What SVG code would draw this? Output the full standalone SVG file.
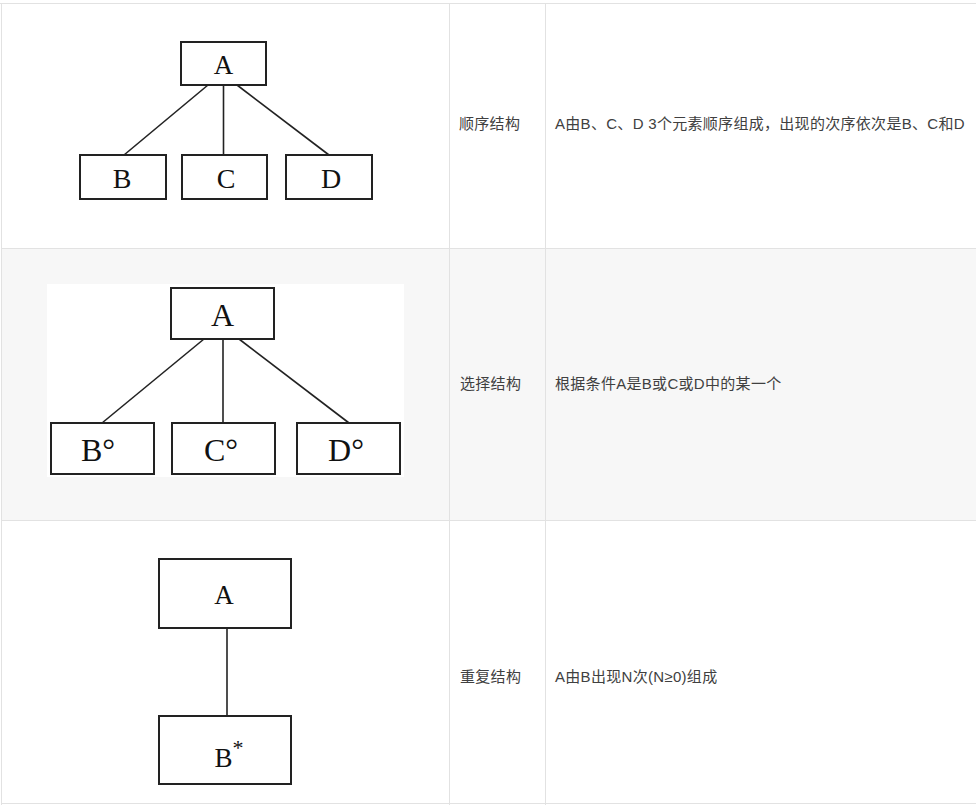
<svg xmlns="http://www.w3.org/2000/svg" width="976" height="805" viewBox="0 0 976 805">
<style>
.grid{stroke:#e2e2e2;stroke-width:1;fill:none}
.box{fill:#fff;stroke:#222;stroke-width:2}
.edge{stroke:#222;stroke-width:1.6;fill:none}
.lbl{font-family:"Liberation Serif","Times New Roman",serif;fill:#111;text-anchor:middle}
.cell{font-family:"Liberation Sans","Noto Sans CJK SC",sans-serif;font-size:15px;fill:#404040;letter-spacing:0.3px}
</style>
<rect x="0" y="0" width="976" height="805" fill="#fff"/>
<g id="table">
<rect x="1" y="248.5" width="975" height="272" fill="#f7f7f7"/>
<line class="grid" x1="0" y1="3.5" x2="976" y2="3.5" stroke="#ececec"/>
<line class="grid" x1="1.5" y1="3" x2="1.5" y2="805"/>
<line class="grid" x1="449.5" y1="3" x2="449.5" y2="805"/>
<line class="grid" x1="545.5" y1="3" x2="545.5" y2="805"/>
<line class="grid" x1="1" y1="248.5" x2="976" y2="248.5"/>
<line class="grid" x1="1" y1="520.5" x2="976" y2="520.5"/>
<line class="grid" x1="1" y1="803.5" x2="976" y2="803.5" stroke="#f0f0f0"/>
<text class="cell" x="459" y="129">顺序结构</text>
<text class="cell" x="555" y="129">A由B、C、D 3个元素顺序组成，出现的次序依次是B、C和D</text>
<text class="cell" x="460" y="389">选择结构</text>
<text class="cell" x="555" y="389">根据条件A是B或C或D中的某一个</text>
<text class="cell" x="460" y="682">重复结构</text>
<text class="cell" x="555" y="682">A由B出现N次(N≥0)组成</text>
</g>
<rect x="47" y="284" width="357" height="193" fill="#fff"/>
<g id="connectors">
<line class="edge" x1="208" y1="85" x2="124" y2="155"/>
<line class="edge" x1="223.5" y1="85" x2="223.5" y2="155"/>
<line class="edge" x1="237" y1="85" x2="329" y2="155"/>
<line class="edge" x1="204" y1="339" x2="102" y2="423"/>
<line class="edge" x1="223" y1="339" x2="223" y2="423"/>
<line class="edge" x1="239" y1="339" x2="349" y2="423"/>
<line class="edge" x1="227" y1="628" x2="227" y2="716"/>
</g>
<g id="s_A"><rect class="box" x="181" y="42" width="85" height="43"/><text class="lbl" x="223.5" y="74" font-size="27">A</text></g>
<g id="s_B"><rect class="box" x="80" y="155" width="86" height="44"/><text class="lbl" x="122" y="188" font-size="28">B</text></g>
<g id="s_C"><rect class="box" x="182" y="155" width="85" height="44"/><text class="lbl" x="226" y="188" font-size="28">C</text></g>
<g id="s_D"><rect class="box" x="286" y="155" width="86" height="44"/><text class="lbl" x="331" y="188" font-size="28">D</text></g>
<g id="c_A"><rect class="box" x="171" y="288" width="103" height="51"/><text class="lbl" x="222.5" y="326" font-size="32">A</text></g>
<g id="c_B"><rect class="box" x="51" y="423" width="103" height="51"/><text class="lbl" x="98" y="461" font-size="32">B°</text></g>
<g id="c_C"><rect class="box" x="172" y="423" width="103" height="51"/><text class="lbl" x="221" y="461" font-size="32">C°</text></g>
<g id="c_D"><rect class="box" x="297" y="423" width="103" height="51"/><text class="lbl" x="346" y="461" font-size="32">D°</text></g>
<g id="r_A"><rect class="box" x="159" y="559" width="132" height="69"/><text class="lbl" x="224" y="604" font-size="27">A</text></g>
<g id="r_B"><rect class="box" x="159" y="716" width="132" height="68"/><text class="lbl" x="229" y="767" font-size="27">B<tspan font-size="22" dy="-12">*</tspan></text></g>
</svg>
